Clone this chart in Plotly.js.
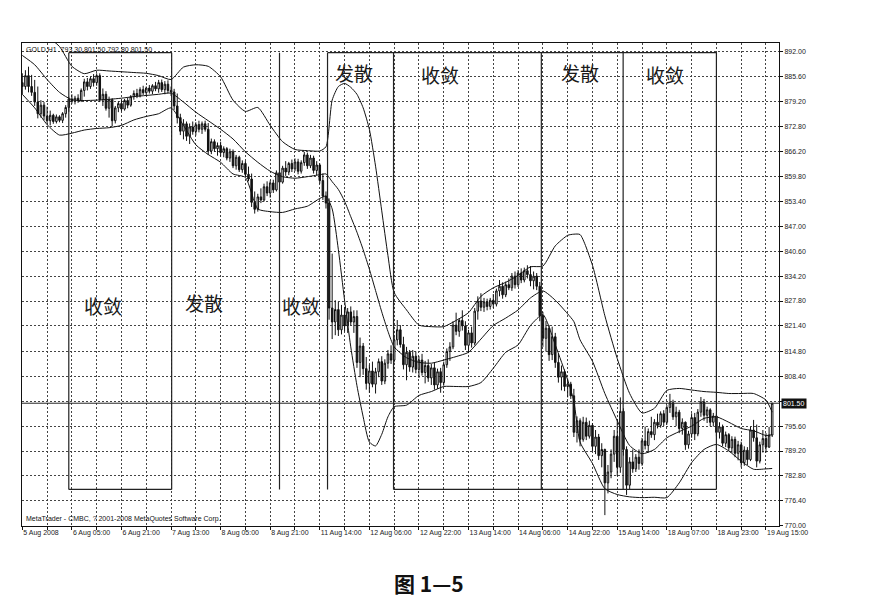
<!DOCTYPE html>
<html><head><meta charset="utf-8">
<script src="https://cdn.plot.ly/plotly-3.0.1.min.js"></script>
<style>html,body{margin:0;padding:0;background:#fff}#chart{width:874px;height:611px}</style>
</head><body><div id="chart"></div>
<script>
// X axis tick labels (one every 16 hourly bars)
const xTickLabels = ["5 Aug 2008","6 Aug 05:00","6 Aug 21:00","7 Aug 13:00","8 Aug 05:00","8 Aug 21:00","11 Aug 14:00","12 Aug 06:00","12 Aug 22:00","13 Aug 14:00","14 Aug 06:00","14 Aug 22:00","15 Aug 14:00","18 Aug 07:00","18 Aug 23:00","19 Aug 15:00"];
// Y axis price ticks
const yTickVals = [892,885.6,879.2,872.8,866.2,859.8,853.4,847,840.6,834.2,827.8,821.4,814.8,808.4,802.0,795.6,789.2,782.8,776.4,770];
const yTickLabels = ["892.00","885.60","879.20","872.80","866.20","859.80","853.40","847.00","840.60","834.20","827.80","821.40","814.80","808.40","","795.60","789.20","782.80","776.40","770.00"];

// GOLD H1 bars
const open = [
884.0,883.0,885.8,883.0,881.5,879.0,876.0,878.2,875.4,874.2,875.6,874.0,875.2,874.3,876.0,877.6,
879.8,879.2,880.0,879.4,882.0,884.2,883.0,885.0,884.0,885.8,879.6,881.0,877.4,879.6,874.2,877.5,
878.6,877.2,879.4,878.2,880.4,881.2,880.6,882.2,881.4,882.6,881.8,883.2,882.4,884.0,882.2,883.6,
882.0,881.6,878.0,875.0,871.5,873.4,870.2,872.6,871.4,873.2,872.0,873.4,872.0,866.4,868.8,867.0,
867.8,866.0,867.0,864.6,866.2,862.6,864.8,861.6,863.2,860.4,859.2,853.2,851.4,854.6,853.8,857.2,
855.6,858.2,856.4,860.8,858.4,862.0,861.0,863.2,861.8,863.6,861.2,863.4,865.4,862.6,864.6,861.4,
862.8,858.8,854.8,853.0,826.0,822.4,825.6,820.4,824.2,821.4,825.0,822.4,823.8,812.0,816.2,810.4,
806.6,809.8,806.4,809.6,812.2,807.2,811.8,814.2,812.6,817.8,820.4,816.6,811.4,814.6,810.8,813.6,
810.2,812.6,809.4,811.2,808.0,810.6,806.2,809.6,806.8,811.4,814.8,816.0,821.6,820.0,822.8,821.4,
816.4,819.6,817.0,825.2,827.8,826.2,827.6,826.4,828.0,827.0,830.4,831.6,829.4,832.0,831.2,834.2,
832.0,835.0,833.2,835.6,834.6,833.0,834.2,831.6,824.0,818.2,820.8,814.0,818.6,812.0,808.2,809.6,
805.8,806.4,803.4,794.0,797.0,792.2,796.6,793.0,795.8,790.4,792.8,788.0,789.6,781.0,783.8,788.4,
793.0,785.0,799.4,789.6,780.4,786.4,784.6,787.6,786.0,791.8,790.6,794.2,793.4,796.6,795.8,798.8,
796.6,800.4,801.6,798.0,799.2,795.0,796.6,790.8,793.6,797.8,793.6,799.2,801.8,798.4,799.8,796.6,
798.2,794.0,795.4,791.2,793.4,790.0,792.2,788.6,790.8,786.2,789.4,787.0,794.6,792.6,786.6,790.8,792.4,790.2,793.3];
const high = [
886.4,887.2,888.1,886.0,884.7,883.0,879.5,879.0,877.8,876.8,876.0,875.8,875.6,876.4,878.2,880.4,
881.0,880.6,881.0,882.5,885.0,885.2,885.5,886.2,886.4,886.4,882.5,881.8,880.4,880.0,878.0,879.2,
879.6,879.8,880.2,880.8,882.0,882.4,882.8,883.2,883.0,883.4,883.6,884.2,884.7,884.8,884.4,884.6,
883.0,882.4,881.2,876.0,874.6,874.0,873.5,874.0,873.8,874.2,874.0,874.2,873.6,869.6,869.4,868.6,
868.8,867.6,867.4,867.0,866.8,865.4,865.2,864.0,863.8,862.4,860.6,856.0,855.4,856.8,858.0,858.6,
858.8,859.0,861.4,862.4,862.6,863.8,863.6,864.2,864.5,864.4,864.0,866.2,866.0,865.4,865.2,863.8,
863.2,860.6,856.0,854.2,840.0,828.0,827.6,826.8,826.2,826.0,826.4,825.4,825.4,818.4,817.0,813.4,
811.4,812.2,810.6,813.0,813.6,812.8,815.2,816.4,818.6,822.9,821.6,818.6,816.0,815.2,815.2,814.8,
813.6,814.2,812.4,812.8,811.6,812.0,810.4,810.6,812.2,815.6,817.2,822.6,824.8,823.4,825.4,822.6,
820.4,821.2,826.0,829.0,829.8,828.6,828.4,828.6,829.6,831.0,833.2,832.6,832.8,833.6,835.0,835.4,
835.8,836.2,836.4,837.0,836.8,835.4,835.0,832.7,825.0,822.7,821.6,821.2,819.6,814.3,811.2,810.2,
807.8,807.0,805.2,798.1,797.6,798.0,797.8,797.0,796.4,794.6,793.6,791.2,789.8,785.6,789.6,794.6,
797.4,803.0,800.2,790.4,787.6,789.6,788.4,789.6,792.6,795.5,795.0,798.0,797.4,798.8,799.4,799.7,
801.0,803.9,802.4,800.6,799.8,797.6,796.8,794.4,798.9,799.0,800.0,803.1,802.6,800.6,800.2,799.0,
798.6,796.6,796.0,794.2,793.8,793.0,792.9,791.8,791.6,790.4,790.2,795.4,797.2,796.0,791.6,794.6,793.8,795.4,801.5];
const low = [
881.0,882.2,881.5,880.6,878.0,874.8,875.0,874.4,873.5,873.0,873.4,873.5,873.8,873.6,875.0,876.5,
878.6,878.4,878.8,879.0,880.4,882.0,882.4,883.0,883.2,879.0,878.0,876.8,875.0,872.8,873.5,876.4,
876.6,876.8,877.4,877.8,879.6,880.0,880.2,880.8,880.6,881.2,881.0,881.8,881.4,881.6,881.0,881.2,
880.6,877.0,873.5,870.5,869.4,869.0,868.2,870.6,870.4,871.2,870.8,871.4,865.4,865.6,866.2,865.2,
865.0,864.8,864.0,863.6,862.0,861.6,861.0,860.8,859.8,858.6,852.0,850.3,850.8,853.0,853.4,854.8,
854.4,855.6,856.0,857.6,858.0,860.0,860.2,861.0,861.2,860.4,860.6,862.6,861.8,862.0,860.6,860.2,
858.0,853.8,851.6,823.0,818.0,819.0,818.8,819.2,820.0,819.6,821.6,819.6,810.6,808.2,808.8,805.0,
804.2,805.6,804.0,808.2,806.2,806.4,810.4,811.6,812.0,816.4,815.8,810.2,807.4,809.6,809.4,809.2,
808.0,808.6,806.6,807.0,806.2,805.0,805.2,804.2,806.0,810.6,812.4,815.4,819.0,818.6,820.2,815.2,
814.4,815.8,816.4,823.0,825.2,825.0,825.4,825.6,826.0,826.4,829.0,828.4,828.8,830.6,830.4,831.0,
831.4,832.4,832.6,833.6,831.6,830.8,830.6,822.6,816.0,814.8,812.4,812.6,810.6,806.8,804.8,804.6,
803.0,802.6,792.8,791.4,790.4,791.6,792.0,792.4,789.2,788.4,786.9,785.0,772.7,778.3,782.2,786.4,
782.8,783.6,788.0,777.9,779.4,783.6,783.8,784.4,785.4,789.6,788.8,792.6,792.0,795.0,795.2,795.6,
796.0,799.0,797.2,795.6,793.8,793.4,789.5,789.8,792.6,792.0,793.0,798.0,797.0,796.4,795.6,795.5,
793.0,792.4,790.4,790.2,789.2,788.7,787.6,786.8,785.0,785.4,785.6,786.6,791.6,785.0,786.0,788.8,788.8,790.0,792.8];
const close = [
883.0,885.8,883.0,881.5,879.0,876.0,878.2,875.4,874.2,875.6,874.0,875.2,874.3,876.0,877.6,879.8,
879.2,880.0,879.4,882.0,884.2,883.0,885.0,884.0,885.8,879.6,881.0,877.4,879.6,874.2,877.5,878.6,
877.2,879.4,878.2,880.4,881.2,880.6,882.2,881.4,882.6,881.8,883.2,882.4,884.0,882.2,883.6,882.0,
881.6,878.0,875.0,871.5,873.4,870.2,872.6,871.4,873.2,872.0,873.4,872.0,866.4,868.8,867.0,867.8,
866.0,867.0,864.6,866.2,862.6,864.8,861.6,863.2,860.4,859.2,853.2,851.4,854.6,853.8,857.2,855.6,
858.2,856.4,860.8,858.4,862.0,861.0,863.2,861.8,863.6,861.2,863.4,865.4,862.6,864.6,861.4,862.8,
858.8,854.8,853.0,826.0,822.4,825.6,820.4,824.2,821.4,825.0,822.4,823.8,812.0,816.2,810.4,806.6,
809.8,806.4,809.6,812.2,807.2,811.8,814.2,812.6,817.8,820.4,816.6,811.4,814.6,810.8,813.6,810.2,
812.6,809.4,811.2,808.0,810.6,806.2,809.6,806.8,811.4,814.8,816.0,821.6,820.0,822.8,821.4,816.4,
819.6,817.0,825.2,827.8,826.2,827.6,826.4,828.0,827.0,830.4,831.6,829.4,832.0,831.2,834.2,832.0,
835.0,833.2,835.6,834.6,833.0,834.2,831.6,824.0,818.2,820.8,814.0,818.6,812.0,808.2,809.6,805.8,
806.4,803.4,794.0,797.0,792.2,796.6,793.0,795.8,790.4,792.8,788.0,789.6,781.0,783.8,788.4,793.0,
785.0,799.4,789.6,780.4,786.4,784.6,787.6,786.0,791.8,790.6,794.2,793.4,796.6,795.8,798.8,796.6,
800.4,801.6,798.0,799.2,795.0,796.6,790.8,793.6,797.8,793.6,799.2,801.8,798.4,799.8,796.6,798.2,
794.0,795.4,791.2,793.4,790.0,792.2,788.6,790.8,786.2,789.4,787.0,794.6,792.6,786.6,790.8,792.4,790.2,793.3,801.5];

// Bollinger bands, read at these bar indices
const bandIdx = [0,4,8,12,16,20,24,28,32,36,40,44,48,52,56,60,64,68,72,76,80,84,88,92,96,
98,100,102,104,106,108,110,112,114,116,118,120,
124,128,132,136,140,144,148,152,156,160,164,168,172,176,178,
180,184,188,192,196,200,204,208,212,216,220,224,228,232,236,240,242];
const upperBand = [902,899,896,893.3,888.2,886.3,887.2,887.0,886.8,886.6,886.4,885.8,884.8,888.0,888.6,888.2,885.5,879.5,876.6,877.6,873.0,868.8,866.8,866.5,866.4,
867.5,879.5,883.0,883.8,882.8,881.0,877.5,872.0,862.5,851.0,839.5,830.0,
825.5,821.6,821.2,821.2,822.8,824.8,829.0,831.2,832.6,834.4,836.6,836.8,842.0,844.7,845.0,
844.9,837.0,824.0,813.0,804.0,799.0,800.2,804.8,805.3,804.9,804.5,804.3,804.0,804.0,804.0,802.3,799.2];
const middleBand = [891.0,888.6,884.8,881.5,879.6,879.4,879.5,879.7,880.0,880.4,880.7,881.0,881.3,879.0,876.4,874.2,872.0,869.5,866.2,863.5,861.2,859.8,859.4,859.8,860.3,
860.5,858.5,856.5,853.5,849.5,845.5,841.0,836.0,830.5,825.0,820.0,816.0,
813.2,812.0,811.8,812.6,813.5,814.6,818.0,821.5,823.4,825.5,828.6,830.4,828.0,824.5,822.5,
817.8,812.3,804.0,797.0,790.6,788.5,789.6,792.6,794.2,795.6,797.6,798.0,796.6,795.0,794.4,793.2,793.4];
const lowerBand = [881.0,877.5,873.2,870.5,871.0,871.8,872.2,872.4,873.0,874.4,875.3,876.0,877.5,873.0,868.0,865.5,863.5,860.5,859.6,851.5,850.8,850.6,851.5,852.2,854.2,
854.8,851.5,841.0,828.0,816.0,806.0,798.0,791.5,790.5,793.5,798.0,800.6,
801.0,803.5,804.5,805.8,805.8,805.8,806.8,810.5,814.6,816.5,821.5,824.3,816.5,807.5,802.0,
791.5,786.0,779.5,778.0,777.4,777.2,777.3,777.2,781.0,786.2,789.6,790.9,789.2,786.6,784.5,784.6,784.7];

// Phase annotations (收敛 = converging, 发散 = diverging)
const phaseNames = ["收敛","发散","收敛","发散","收敛","发散","收敛"];
const phaseLabelBar = [25.9, 58.5, 89.8, 107.2, 134.9, 180.1, 207.5];
const phaseLabelPrice = [826.7, 827.5, 826.7, 886.5, 886.0, 886.5, 886.0];
const phaseEdges = [15, 48.2, 83, 98.5, 119.8, 167.5, 193.9, 224];
const boxTop = 891.7, boxBottom = 779.3;
const boxTopSegs = [[15, 48.2], [98.5, 224]];
const boxBottomSegs = [[15, 48.2], [119.8, 224]];

const n = close.length;
const barIdx = close.map((_, i) => i);
const last = n - 1;
const lastClose = close[last];

const tickVals = [], tickText = [];
xTickLabels.forEach((t, k) => {
  tickVals.push(k * 16); tickText.push(t);
  tickVals.push(k * 16 + 8); tickText.push("");
});

const ink = '#111';
const traces = [
  {type:'candlestick', x:barIdx, open:open, high:high, low:low, close:close,
   increasing:{line:{color:ink, width:1}, fillcolor:'#ffffff'},
   decreasing:{line:{color:ink, width:1}, fillcolor:ink},
   whiskerwidth:0, hoverinfo:'skip', showlegend:false},
  {type:'scatter', mode:'lines', x:bandIdx, y:upperBand, line:{color:ink, width:1, shape:'spline', smoothing:0.6}, hoverinfo:'skip', showlegend:false},
  {type:'scatter', mode:'lines', x:bandIdx, y:middleBand, line:{color:ink, width:1, shape:'spline', smoothing:0.6}, hoverinfo:'skip', showlegend:false},
  {type:'scatter', mode:'lines', x:bandIdx, y:lowerBand, line:{color:ink, width:1, shape:'spline', smoothing:0.6}, hoverinfo:'skip', showlegend:false}
];

const edgeLine = {color:'#222', width:1.2};
const shapes = [];
phaseEdges.forEach(e => shapes.push({type:'line', x0:e, x1:e, y0:boxBottom, y1:boxTop, line:edgeLine}));
boxTopSegs.forEach(s => shapes.push({type:'line', x0:s[0], x1:s[1], y0:boxTop, y1:boxTop, line:edgeLine}));
boxBottomSegs.forEach(s => shapes.push({type:'line', x0:s[0], x1:s[1], y0:boxBottom, y1:boxBottom, line:edgeLine}));
shapes.push({type:'line', xref:'paper', x0:0, x1:1, y0:lastClose, y1:lastClose, line:{color:'#222', width:1}});

const annotations = phaseNames.map((t, k) => ({
  x: phaseLabelBar[k], y: phaseLabelPrice[k], text: t, showarrow:false,
  font:{family:'Noto Sans CJK SC', size:19, color:'#1a1a1a'}
}));
annotations.push({xref:'paper', x:1, xanchor:'left', xshift:2, y:lastClose, text:lastClose.toFixed(2),
  showarrow:false, bgcolor:'#111', borderpad:1, font:{family:'Liberation Sans', size:7, color:'#fff'}});
annotations.push({xref:'paper', yref:'paper', x:0, y:1, xanchor:'left', yanchor:'top', xshift:2, yshift:-1,
  text:'GOLD,H1  ' + [open[last], high[last], low[last], close[last]].map(v => v.toFixed(2)).join(' '),
  showarrow:false, font:{family:'Liberation Sans', size:7, color:'#111'}});
annotations.push({xref:'paper', yref:'paper', x:0, y:0, xanchor:'left', yanchor:'bottom', xshift:2, yshift:1,
  text:'MetaTrader - CMBC, ? 2001-2008 MetaQuotes Software Corp.',
  showarrow:false, font:{family:'Liberation Sans', size:7, color:'#111'}});
annotations.push({xref:'paper', yref:'paper', x:0.537, y:-0.118, xanchor:'center', yanchor:'middle',
  text:'<b>图 1—5</b>', showarrow:false, font:{family:'Noto Sans CJK SC', size:21, color:'#111'}});

const gridColor = '#444';
const layout = {
  width:874, height:611,
  margin:{l:22, r:95, t:43, b:85},
  paper_bgcolor:'#fff', plot_bgcolor:'#fff',
  font:{family:'Liberation Sans', size:7, color:'#222'},
  showlegend:false,
  xaxis:{range:[-0.1, 244.2], tickmode:'array', tickvals:tickVals, ticktext:tickText, tickangle:0,
    ticks:'outside', ticklen:3, tickcolor:'#111', ticklabelposition:'outside right',
    showgrid:true, gridcolor:gridColor, gridwidth:1, griddash:'2px,2px',
    showline:true, linecolor:'#111', linewidth:1, mirror:true, zeroline:false,
    rangeslider:{visible:false}, fixedrange:true, tickfont:{size:7, color:'#222'}},
  yaxis:{side:'right', range:[769.9, 894.2], tickmode:'array', tickvals:yTickVals, ticktext:yTickLabels,
    ticks:'outside', ticklen:3, tickcolor:'#111',
    showgrid:true, gridcolor:gridColor, gridwidth:1, griddash:'2px,2px',
    showline:true, linecolor:'#111', linewidth:1, mirror:true, zeroline:false,
    fixedrange:true, tickfont:{size:7, color:'#222'}},
  shapes:shapes,
  annotations:annotations
};
Plotly.newPlot('chart', traces, layout, {staticPlot:true, displayModeBar:false});
</script></body></html>
